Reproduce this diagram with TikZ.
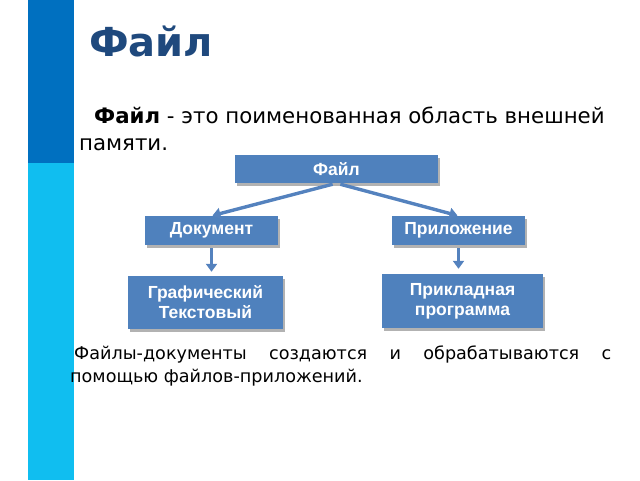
\documentclass[tikz,border=0pt]{standalone}
\usepackage{fontspec}
\setmainfont{DejaVu Sans}
\newfontfamily\caixafont{Liberation Sans}
\usetikzlibrary{positioning,shadows,arrows.meta}

\definecolor{barraEscura}{RGB}{0,112,192}
\definecolor{barraClara}{RGB}{16,190,240}
\definecolor{tituloAzul}{RGB}{31,73,125}
\definecolor{caixaAzul}{RGB}{79,129,189}
\definecolor{setaAzul}{RGB}{84,130,190}

\begin{document}
\begin{tikzpicture}[x=1pt,y=-1pt,
	caixa/.style={fill=caixaAzul, text=white, align=center,
		font=\caixafont\bfseries\fontsize{17.5}{20}\selectfont,
		drop shadow={shadow xshift=1.5pt, shadow yshift=-2.5pt, fill=black!30, opacity=1}},
	seta/.style={draw=setaAzul, line width=3.4pt, -{Triangle[length=8pt,width=11pt]}}]

\useasboundingbox (0,0) rectangle (640,480);

% Barra lateral
	\fill[barraEscura] (28,0) rectangle (74,163);
	\fill[barraClara] (28,163) rectangle (74,480);

% Titulo e definicao
	\node[anchor=base west, text=tituloAzul, font=\bfseries\fontsize{40}{46}\selectfont, inner sep=0pt] (titulo) at (89,56) {Файл};

	\node[anchor=north west, align=left, inner sep=0pt, font=\fontsize{21.3}{27}\selectfont] (definicao) at (79,107)
		{\hspace*{15pt}\textbf{Файл} - это поименованная область внешней\\памяти.};

% Caixas
	\node[caixa, minimum width=203pt, minimum height=28pt] (arquivo) at (336.5,169) {Файл};
	\node[caixa, minimum width=133pt, minimum height=29pt] (documento) at (211.5,230.5) {Документ};
	\node[caixa, minimum width=133pt, minimum height=29pt] (aplicativo) at (458.5,230.5) {Приложение};
	\node[caixa, minimum width=155pt, minimum height=53pt] (grafico) at (205.5,302.5) {Графический\\Текстовый};
	\node[caixa, minimum width=161pt, minimum height=54pt] (programa) at (462.5,301) {Прикладная\\программа};

% Setas
	\draw[seta, shorten <=4pt, shorten >=1pt] (arquivo.south) -- (documento.north);
	\draw[seta, shorten <=4pt, shorten >=1pt] (arquivo.south) -- (aplicativo.north);
	\draw[seta, shorten <=3pt, shorten >=4pt] (documento.south) -- (documento.south |- grafico.north);
	\draw[seta, shorten <=3pt, shorten >=5pt] (aplicativo.south) -- (aplicativo.south |- programa.north);

% Texto final
	\node[anchor=north west, align=justify, text width=541pt, inner sep=0pt, font=\fontsize{17.6}{23}\selectfont] (rodape) at (70,346)
		{\hspace*{4pt}Файлы-документы создаются и обрабатываются с\linebreak помощью файлов-приложений.};
\end{tikzpicture}
\end{document}
